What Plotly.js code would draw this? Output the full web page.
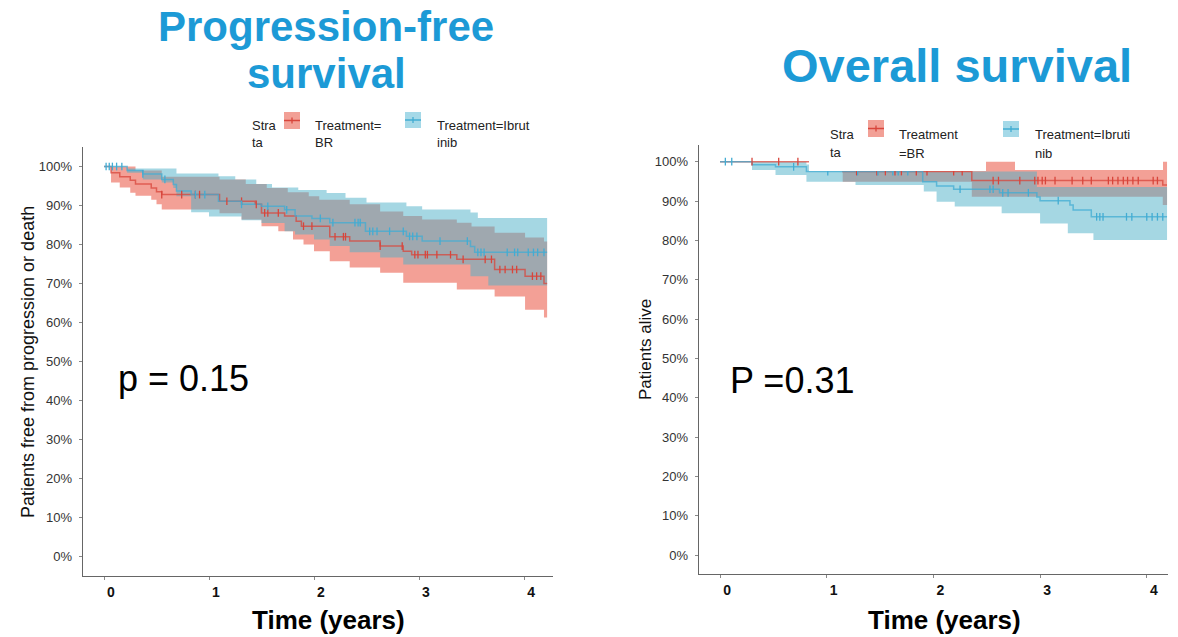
<!DOCTYPE html>
<html><head><meta charset="utf-8">
<script src="https://cdn.plot.ly/plotly-3.0.1.min.js"></script>
<style>html,body{margin:0;padding:0;background:#fff;} #chart{width:1178px;height:637px;}</style>
</head><body><div id="chart"></div>
<script>
// ---------------- DATA ----------------
// Progression-free survival (left)
const pfsEnd = 4.22;
const pfsBRTime = [0,0.067,0.15,0.25,0.30,0.45,0.50,0.55,1.10,1.44,1.50,1.72,1.83,1.88,2.15,2.34,2.63,2.85,2.93,3.36,3.72,4.01,4.19];
const pfsBRSurv = [100,98.4,97.4,96.5,95.5,94.5,93.5,92.8,91.1,90.3,88.1,87.3,86.0,84.7,82.0,80.9,79.6,78.3,77.4,76.2,73.6,71.9,70.0];
const pfsBRLoTime = [0,0.067,0.15,0.25,0.30,0.45,0.50,0.55,1.10,1.31,1.50,1.66,1.80,1.90,2.0,2.15,2.34,2.63,2.85,3.36,3.72,4.01,4.19];
const pfsBRLo = [100,95.9,94.6,93.3,92.5,91.5,90.3,89.0,88.0,86.4,84.7,83.4,81.3,80.0,78.3,75.7,74.1,72.8,70.2,68.5,66.7,63.3,61.3];
const pfsBRHiTime = [0,0.30,0.55,1.10,1.35,1.55,1.75,1.95,2.05,2.34,2.63,2.85,3.03,3.36,3.50,3.72,4.01,4.19];
const pfsBRHi = [100,99.0,97.4,96.7,95.5,94.5,93.4,92.4,91.5,90.3,88.5,87.3,86.4,85.6,84.6,83.0,81.8,80.8];
const pfsBRCensor = [0.55,0.74,0.87,0.91,1.17,1.31,1.45,1.53,1.56,1.66,1.90,1.98,2.20,2.28,2.30,2.63,2.84,2.96,2.99,3.06,3.08,3.17,3.30,3.42,3.63,3.69,3.77,3.82,3.89,3.93,4.08,4.12,4.16];

const pfsIbTime = [0,0.22,0.37,0.55,0.66,0.69,0.83,1.09,1.31,1.50,1.72,1.82,1.98,2.15,2.49,2.88,3.03,3.49,3.53];
const pfsIbSurv = [100,99.0,98.1,96.7,95.4,93.7,92.8,91.1,90.3,89.8,88.9,87.3,86.7,85.6,83.4,82.1,80.9,79.5,78.0];
const pfsIbLoTime = [0,0.22,0.37,0.55,0.66,0.69,0.83,1.00,1.31,1.50,1.72,1.82,2.0,2.15,2.34,2.63,2.85,3.49,3.66];
const pfsIbLo = [100,98.4,96.7,95.9,94.5,92.4,88.3,87.2,86.2,85.5,83.4,82.6,81.3,79.6,78.0,76.7,74.9,71.9,69.5];
const pfsIbHiTime = [0,0.22,0.69,1.09,1.25,1.45,1.60,1.85,2.12,2.30,2.50,2.88,3.03,3.49,3.56];
const pfsIbHi = [100,99.5,98.2,97.5,96.7,95.5,94.6,94.0,93.2,92.0,90.8,89.8,89.0,88.2,86.8];
const pfsIbCensor = [0.02,0.05,0.08,0.12,0.17,0.37,0.58,0.87,0.96,1.31,1.56,1.74,2.06,2.18,2.39,2.42,2.44,2.53,2.56,2.60,2.72,2.85,2.91,2.94,2.98,3.20,3.46,3.56,3.59,3.62,3.84,3.91,3.94,4.04,4.09,4.13,4.19];

// Overall survival (right)
const osEnd = 4.19;
const osBRTime = [0,0.95,1.15,2.36,4.15];
const osBRSurv = [100,98.8,97.5,95.2,94.1];
const osBRLoTime = [0,0.95,1.15,2.36,4.15];
const osBRLo = [100,97.8,94.9,91.1,89.0];
const osBRHiTime = [0];
const osBRHi = [100];
const osBRCensor = [0.30,0.55,0.73,1.28,1.47,1.55,1.64,1.70,1.84,1.94,2.19,2.27,2.56,2.61,2.81,2.95,2.98,3.02,3.05,3.14,3.30,3.40,3.48,3.64,3.68,3.73,3.78,3.82,3.87,3.92,4.06,4.10];

const osIbTime = [0,0.30,0.52,0.81,1.90,2.03,2.19,2.62,2.97,3.00,3.28,3.31,3.48];
const osIbSurv = [100,99.2,98.7,97.5,94.9,93.8,93.0,92.1,91.0,90.1,89.0,87.7,86.0];
const osIbLoTime = [0,0.30,0.52,0.81,1.27,1.91,2.03,2.20,2.64,3.00,3.26,3.50];
const osIbLo = [100,97.9,96.6,94.9,94.1,92.4,89.8,88.6,86.9,84.3,81.8,80.1];
const osIbHiTime = [0,0.81,1.19,2.97];
const osIbHi = [100,99.3,97.5,93.6];
const osIbCensor = [0.05,0.11,0.69,1.01,1.29,1.48,1.62,1.67,1.76,2.25,2.53,2.56,2.65,2.70,2.89,3.17,3.53,3.56,3.59,3.81,3.86,4.00,4.05,4.10,4.15];

const xTickVals = [0,1,2,3,4];
const xTickText = ['0','1','2','3','4'];
const yTickVals = [0,10,20,30,40,50,60,70,80,90,100];
const yTickText = ['0%','10%','20%','30%','40%','50%','60%','70%','80%','90%','100%'];

// ---------------- HELPERS ----------------
const FONT = 'Liberation Sans, Arial, Helvetica, sans-serif';
const RED = '#D8453B', BLUE = '#42ACD3';
const RED_FILL = 'rgba(231,65,45,0.5)', BLUE_FILL = 'rgba(75,175,200,0.5)';
const W = 1178, H = 637;
const px = x => x / W, py = y => 1 - y / H;

function stepPath(t, v, tEnd) {
  const xs = [], ys = [];
  for (let i = 0; i < t.length; i++) {
    if (i > 0) { xs.push(t[i]); ys.push(v[i - 1]); }
    xs.push(t[i]); ys.push(v[i]);
  }
  xs.push(tEnd); ys.push(v[v.length - 1]);
  return {xs, ys};
}
function valueAt(t, v, x) {
  let r = v[0];
  for (let i = 0; i < t.length; i++) if (t[i] <= x) r = v[i];
  return r;
}
function bandTrace(tHi, vHi, tLo, vLo, tEnd, color, xa, ya) {
  const hi = stepPath(tHi, vHi, tEnd), lo = stepPath(tLo, vLo, tEnd);
  return {x: hi.xs.concat(lo.xs.slice().reverse()), y: hi.ys.concat(lo.ys.slice().reverse()),
    fill: 'toself', fillcolor: color, line: {width: 0}, mode: 'lines', xaxis: xa, yaxis: ya, hoverinfo: 'skip'};
}
function lineTrace(t, v, tEnd, color, xa, ya) {
  const p = stepPath(t, v, tEnd);
  return {x: p.xs, y: p.ys, mode: 'lines', line: {color: color, width: 1.5}, opacity: 0.75, xaxis: xa, yaxis: ya, hoverinfo: 'skip'};
}
function censorTrace(c, t, v, color, xa, ya) {
  return {x: c, y: c.map(d => valueAt(t, v, d)), mode: 'markers',
    marker: {symbol: 'line-ns-open', size: 5.5, color: color, line: {color: color, width: 1.3}}, xaxis: xa, yaxis: ya, hoverinfo: 'skip'};
}

const traces = [
  bandTrace(pfsBRHiTime, pfsBRHi, pfsBRLoTime, pfsBRLo, pfsEnd, RED_FILL, 'x', 'y'),
  bandTrace(pfsIbHiTime, pfsIbHi, pfsIbLoTime, pfsIbLo, pfsEnd, BLUE_FILL, 'x', 'y'),
  lineTrace(pfsBRTime, pfsBRSurv, pfsEnd, RED, 'x', 'y'),
  lineTrace(pfsIbTime, pfsIbSurv, pfsEnd, BLUE, 'x', 'y'),
  censorTrace(pfsBRCensor, pfsBRTime, pfsBRSurv, RED, 'x', 'y'),
  censorTrace(pfsIbCensor, pfsIbTime, pfsIbSurv, BLUE, 'x', 'y'),
  bandTrace(osBRHiTime, osBRHi, osBRLoTime, osBRLo, osEnd, RED_FILL, 'x2', 'y2'),
  bandTrace(osIbHiTime, osIbHi, osIbLoTime, osIbLo, osEnd, BLUE_FILL, 'x2', 'y2'),
  lineTrace(osBRTime, osBRSurv, osEnd, RED, 'x2', 'y2'),
  lineTrace(osIbTime, osIbSurv, osEnd, BLUE, 'x2', 'y2'),
  censorTrace(osBRCensor, osBRTime, osBRSurv, RED, 'x2', 'y2'),
  censorTrace(osIbCensor, osIbTime, osIbSurv, BLUE, 'x2', 'y2')
];

function xAxis(domain, range) {
  return {domain: domain, range: range, showgrid: false, zeroline: false, showline: true, linecolor: '#666', linewidth: 1.4,
    ticks: 'outside', ticklen: 3, tickcolor: '#888', tickwidth: 1, tickmode: 'array', tickvals: xTickVals, ticktext: xTickText, ticklabelshift: 7,
    tickfont: {family: FONT, size: 14, color: '#111', weight: 'bold'}, fixedrange: true};
}
function yAxis(domain, range) {
  return {domain: domain, range: range, showgrid: false, zeroline: false, showline: true, linecolor: '#666', linewidth: 1.4,
    ticks: 'outside', ticklen: 3, tickcolor: '#888', tickwidth: 1, tickmode: 'array', tickvals: yTickVals, ticktext: yTickText, ticklabelstandoff: 4,
    tickfont: {family: FONT, size: 13, color: '#333'}, fixedrange: true};
}

function txt(x, y, text, size, opts) {
  return Object.assign({xref: 'paper', yref: 'paper', x: px(x), y: py(y), text: text, showarrow: false,
    xanchor: 'left', yanchor: 'middle', font: {family: FONT, size: size, color: '#222'}}, opts || {});
}

const TITLE_BLUE = '#1C9AD6';
const annotations = [
  txt(326, 26, '<b>Progression-free</b>', 42, {xanchor: 'center', font: {family: FONT, size: 42, color: TITLE_BLUE}}),
  txt(326, 74, '<b>survival</b>', 42, {xanchor: 'center', font: {family: FONT, size: 42, color: TITLE_BLUE}}),
  txt(957, 65, '<b>Overall survival</b>', 47, {xanchor: 'center', font: {family: FONT, size: 47, color: TITLE_BLUE}}),
  txt(328, 620, '<b>Time (years)</b>', 26, {xanchor: 'center', font: {family: FONT, size: 26, color: '#000'}}),
  txt(944, 620, '<b>Time (years)</b>', 26, {xanchor: 'center', font: {family: FONT, size: 26, color: '#000'}}),
  txt(28, 362, 'Patients free from progression or death', 18, {xanchor: 'center', textangle: -90, font: {family: FONT, size: 18, color: '#111'}}),
  txt(645, 350, 'Patients alive', 17, {xanchor: 'center', textangle: -90, font: {family: FONT, size: 17, color: '#111'}}),
  txt(116, 378, 'p = 0.15', 36, {font: {family: FONT, size: 36, color: '#000'}}),
  txt(728, 380, 'P =0.31', 36, {font: {family: FONT, size: 36, color: '#000'}}),
  // left legend
  txt(250, 125, 'Stra', 13), txt(250, 142, 'ta', 13),
  txt(313, 125, 'Treatment=', 13), txt(313, 142, 'BR', 13),
  txt(435, 125, 'Treatment=Ibrut', 13), txt(435, 142, 'inib', 13),
  // right legend
  txt(828, 135, 'Stra', 13), txt(828, 152, 'ta', 13),
  txt(897, 135, 'Treatment', 13), txt(897, 153, '=BR', 13),
  txt(1033, 135, 'Treatment=Ibruti', 13), txt(1033, 153, 'nib', 13)
];

function swatch(x0, y0, x1, y1, fill, line) {
  const ym = (y0 + y1) / 2, xm = (x0 + x1) / 2;
  return [
    {type: 'rect', xref: 'paper', yref: 'paper', x0: px(x0), x1: px(x1), y0: py(y0), y1: py(y1), fillcolor: fill, line: {width: 0}, layer: 'above'},
    {type: 'line', xref: 'paper', yref: 'paper', x0: px(x0), x1: px(x1), y0: py(ym), y1: py(ym), line: {color: line, width: 1.5}, layer: 'above'},
    {type: 'line', xref: 'paper', yref: 'paper', x0: px(xm), x1: px(xm), y0: py(ym - 3), y1: py(ym + 3), line: {color: line, width: 1.3}, layer: 'above'}
  ];
}
function whiteBox(x0, y0, x1, y1) {
  return {type: 'rect', xref: 'paper', yref: 'paper', x0: px(x0), x1: px(x1), y0: py(y0), y1: py(y1), fillcolor: '#fff', line: {width: 0}, layer: 'above'};
}

const shapes = [].concat(
  [whiteBox(809, 116, 986, 171), whiteBox(1015, 116, 1163, 170)],
  swatch(284, 112, 300, 129, '#F2A096', RED),
  swatch(405, 112, 421, 128, '#A5D9E8', BLUE),
  swatch(868, 120, 884, 137, '#F2A096', RED),
  swatch(1003, 121, 1019, 137, '#A5D9E8', BLUE)
);

const layout = {
  width: W, height: H, autosize: false, margin: {l: 0, r: 0, t: 0, b: 0},
  paper_bgcolor: '#fff', plot_bgcolor: '#fff', showlegend: false, hovermode: false,
  xaxis: Object.assign(xAxis([83 / W, 553 / W], [-0.2, 4.276]), {anchor: 'y'}),
  yaxis: Object.assign(yAxis([1 - 576 / H, 1 - 147 / H], [-4.95, 105.0]), {anchor: 'x'}),
  xaxis2: Object.assign(xAxis([699 / W, 1168 / W], [-0.197, 4.199]), {anchor: 'y2'}),
  yaxis2: Object.assign(yAxis([1 - 574 / H, 1 - 145 / H], [-4.83, 104.25]), {anchor: 'x2'}),
  annotations: annotations,
  shapes: shapes
};

Plotly.newPlot('chart', traces, layout, {displayModeBar: false, staticPlot: true});
</script></body></html>
